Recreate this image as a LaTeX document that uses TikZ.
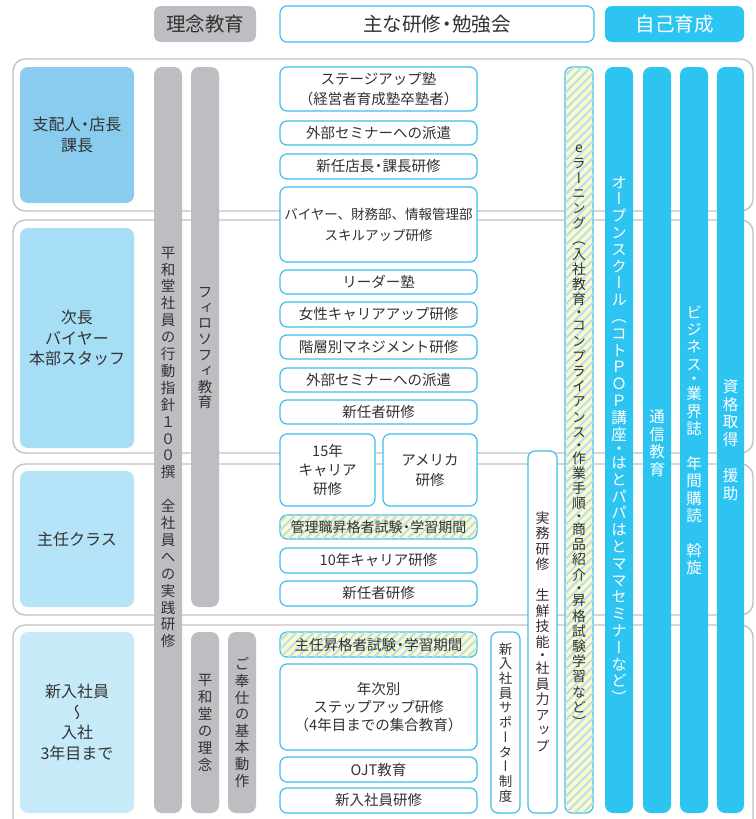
\documentclass[tikz,border=0pt]{standalone}
\usepackage{fontspec}
\setmainfont{Noto Sans CJK JP}
\newfontfamily\vjp[RawFeature={+vert}]{Noto Sans CJK JP}
\usetikzlibrary{patterns.meta}
\definecolor{cyanM}{RGB}{46,196,242}
\definecolor{cyanB}{RGB}{62,192,236}
\definecolor{grayBar}{RGB}{189,190,193}
\definecolor{secLine}{RGB}{195,195,195}
\definecolor{txt}{RGB}{50,50,50}
\definecolor{roleA}{RGB}{137,204,238}
\definecolor{roleB}{RGB}{166,222,246}
\definecolor{roleC}{RGB}{181,227,247}
\definecolor{roleD}{RGB}{199,234,249}
\definecolor{hatchY}{RGB}{255,249,200}
\definecolor{hatchB}{RGB}{178,224,244}

\newcommand\nd{{\kern-.22em・\kern-.22em}}

\ExplSyntaxOn
\dim_new:N \l__vt_p_dim
\cs_new_protected:Npn \__vt_char:nn #1#2
 {
  \hbox_set:Nn \l_tmpa_box { \hbox_to_wd:nn {1.3em} { \hss #1 \hss } }
  \box_set_ht:Nn \l_tmpa_box { #2\l__vt_p_dim / 2 + 0.38em }
  \box_set_dp:Nn \l_tmpa_box { #2\l__vt_p_dim / 2 - 0.38em }
  \box_use_drop:N \l_tmpa_box
 }
\NewDocumentCommand \vtext { O{17pt} m }
 {
  \dim_set:Nn \l__vt_p_dim {#1}
  \vbox:n
   {
    \vjp
    \offinterlineskip
    \tl_map_inline:nn {#2}
     {
      \str_if_eq:nnTF {##1} {・}
       { \__vt_char:nn {##1} {0.7} }
       { \__vt_char:nn {##1} {1} }
     }
   }
 }
\ExplSyntaxOff

\newcommand\bx[7]{%
  \pgfmathsetmacro\bxcx{(#3+#5)/2}\pgfmathsetmacro\bxcy{(#4+#6)/2}%
  \pgfmathsetmacro\bxw{#5-#3}\pgfmathsetmacro\bxh{#6-#4}%
  \node[#1, minimum width=\bxw pt, minimum height=\bxh pt] (#2) at (\bxcx,\bxcy) {#7};}

\tikzset{
  sect/.style={draw=secLine, line width=1.4pt, rounded corners=12pt, fill=white, inner sep=0pt},
  role/.style={rounded corners=8pt, inner sep=0pt, align=center, text=txt, font=\fontsize{16}{20.5}\selectfont},
  gbar/.style={fill=grayBar, rounded corners=8pt, inner sep=0pt},
  cbar/.style={fill=cyanM, rounded corners=8pt, inner sep=0pt, text=white, font=\fontsize{15.5}{17}\selectfont},
  gtext/.style={inner sep=0pt, text=txt, font=\fontsize{14.5}{17}\selectfont},
  trbox/.style={draw=cyanB, line width=1.2pt, fill=white, rounded corners=7pt, inner sep=0pt, align=center, text=txt, font=\fontsize{14.5}{20}\selectfont},
  hatchbox/.style={trbox, fill=hatchY, postaction={pattern={Lines[angle=45,distance=6pt,line width=2pt]}, pattern color=hatchB}},
  hdrgray/.style={fill=grayBar, rounded corners=7pt, inner sep=0pt, text=txt, font=\fontsize{19.5}{22}\selectfont},
  hdrwhite/.style={draw=cyanB, line width=1.2pt, fill=white, rounded corners=7pt, inner sep=0pt, text=txt, font=\fontsize{19.5}{22}\selectfont},
  hdrcyan/.style={fill=cyanM, rounded corners=7pt, inner sep=0pt, text=white, font=\fontsize{19.5}{22}\selectfont},
}

\begin{document}
\begin{tikzpicture}[x=1pt,y=-1pt]
\useasboundingbox (0,0) rectangle (755,819);
\fill[white] (0,0) rectangle (755,819);

% headers
\bx{hdrgray}{h1}{154}{6}{256}{42}{理念教育}
\bx{hdrwhite}{h2}{280}{6}{594}{42}{主な研修\nd 勉強会}
\bx{hdrcyan}{h3}{605}{6}{744}{42}{自己育成}

% sections
\bx{sect}{s1}{13}{59}{753}{211}{}
\bx{sect}{s2}{13}{220}{753}{453}{}
\bx{sect}{s3}{13}{464}{753}{615}{}
\bx{sect}{s4}{13}{625}{753}{845}{}

% roles
\bx{role, fill=roleA}{r1}{20}{67}{134}{203}{支配人\nd 店長\\課長}
\bx{role, fill=roleB}{r2}{20}{228}{134}{448}{次長\\バイヤー\\本部スタッフ}
\bx{role, fill=roleC}{r3}{20}{471}{134}{607}{主任クラス}
\bx{role, fill=roleD}{r4}{20}{632}{134}{813}{新入社員\\{\vjp ～}\\入社\\3年目まで}

% gray bars
\bx{gbar}{g1}{154}{67}{182}{813}{}
\bx{gbar}{g2}{191}{67}{219}{607}{}
\bx{gbar}{g3}{191}{632}{219}{813}{}
\bx{gbar}{g4}{228}{632}{256}{813}{}
\node[gtext] (g1t) at ([yshift=-7pt]g1.center) {\vtext[16.9pt]{平和堂社員の行動指針１００撰　全社員への実践研修}};
\node[gtext] (g2t) at ([yshift=-10pt]g2.center) {\vtext[15.8pt]{フィロソフィ教育}};
\node[gtext] (g3t) at (g3.center) {\vtext[17pt]{平和堂の理念}};
\node[gtext] (g4t) at (g4.center) {\vtext[16.6pt]{ご奉仕の基本動作}};

% training boxes
\bx{trbox}{t1}{280}{67}{477}{111}{ステージアップ塾\\（経営者育成塾卒塾者）}
\bx{trbox}{t2}{280}{121}{477}{145}{外部セミナーへの派遣}
\bx{trbox}{t3}{280}{154}{477}{179}{新任店長\nd 課長研修}
\bx{trbox, font=\fontsize{13.5}{21}\selectfont}{t4}{280}{187}{477}{262}{バイヤー、財務部、情報管理部\\スキルアップ研修}
\bx{trbox}{t5}{280}{270}{477}{294}{リーダー塾}
\bx{trbox}{t6}{280}{302}{477}{327}{女性キャリアアップ研修}
\bx{trbox}{t7}{280}{335}{477}{359}{階層別マネジメント研修}
\bx{trbox}{t8}{280}{368}{477}{392}{外部セミナーへの派遣}
\bx{trbox}{t9}{280}{400}{477}{424}{新任者研修}
\bx{trbox, font=\fontsize{14.5}{19}\selectfont}{t10}{280}{434}{375}{506}{15年\\キャリア\\研修}
\bx{trbox}{t11}{383}{434}{477}{506}{アメリカ\\研修}
\bx{hatchbox, font=\fontsize{14}{20}\selectfont}{t12}{280}{515}{477}{539}{管理職昇格者試験\nd 学習期間}
\bx{trbox}{t13}{280}{548}{477}{573}{10年キャリア研修}
\bx{trbox}{t14}{280}{581}{477}{606}{新任者研修}
\bx{hatchbox, font=\fontsize{14.5}{20}\selectfont}{t15}{280}{632}{477}{657}{主任昇格者試験\nd 学習期間}
\bx{trbox, font=\fontsize{14.5}{18}\selectfont}{t16}{280}{664}{477}{750}{年次別\\ステップアップ研修\\（4年目までの集合教育）}
\bx{trbox}{t17}{280}{757}{477}{782}{OJT教育}
\bx{trbox}{t18}{280}{788}{477}{813}{新入社員研修}

% vertical program boxes
\bx{trbox, font=\fontsize{13.5}{15}\selectfont}{v1}{491}{632}{520}{813}{\vtext[14.7pt]{新入社員サポーター制度}}
\bx{trbox, font=\fontsize{14}{15}\selectfont}{v2}{528}{451}{557}{813}{\vtext[15.5pt]{実務研修　生鮮技能・社員力アップ}}
\bx{hatchbox}{v3}{565}{67}{593}{813}{}
\node[gtext, font=\fontsize{13.8}{15}\selectfont] (v3t) at ([yshift=5pt]v3.center) {\vtext[15.2pt]{eラーニング（入社教育・コンプライアンス・作業手順・商品紹介・昇格試験学習など）}};

% self development bars
\bx{cbar}{c1}{605}{67}{633}{813}{\vtext[16.8pt]{オープンスクール（コトＰＯＰ講座・はとパパはとママセミナーなど）}}
\bx{cbar}{c2}{643}{67}{671}{813}{}
\node[gtext, text=white, font=\fontsize{15.5}{17}\selectfont] (c2t) at ([yshift=-3pt]c2.center) {\vtext[17.7pt]{通信教育}};
\bx{cbar}{c3}{680}{67}{708}{813}{\vtext[17.4pt]{ビジネス・業界誌　年間購読　斡旋}}
\bx{cbar}{c4}{717}{67}{744}{813}{\vtext[17.9pt]{資格取得　援助}}
\end{tikzpicture}
\end{document}
